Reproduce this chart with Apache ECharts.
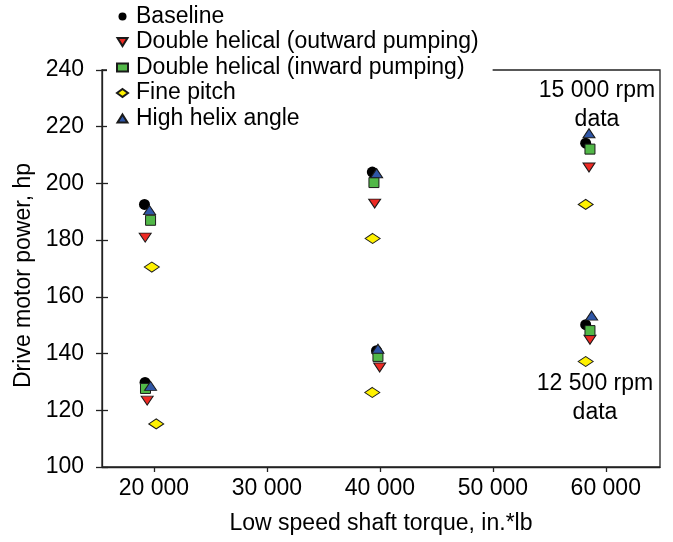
<!DOCTYPE html>
<html>
<head>
<meta charset="utf-8">
<script src="https://cdn.jsdelivr.net/npm/echarts@6/dist/echarts.min.js"></script>
<style>html,body{margin:0;padding:0;background:#fff}#c{width:673px;height:542px}</style>
</head>
<body>
<div id="c"></div>
<script>
// ---- data ----
const seriesNames = ['Baseline', 'Double helical (outward pumping)', 'Double helical (inward pumping)', 'Fine pitch', 'High helix angle'];
const xTicks = [20000, 30000, 40000, 50000, 60000];
const yTicks = [100, 120, 140, 160, 180, 200, 220, 240];

const baselineX = [19160, 39330, 58220, 19210, 39700, 58220];
const baselineY = [192.6, 204.0, 214.2, 129.8, 141.0, 150.2];
const outwardX = [19225, 39540, 58514, 19400, 39980, 58600];
const outwardY = [180.9, 192.9, 205.6, 123.4, 135.1, 144.9];
const inwardX = [19700, 39475, 58600, 19250, 39830, 58600];
const inwardY = [187.0, 200.3, 212.1, 127.7, 139.0, 148.1];
const fineX = [19810, 39360, 58220, 20200, 39330, 58220];
const fineY = [170.5, 180.6, 192.6, 115.2, 126.3, 137.2];
const highX = [19608, 39715, 58514, 19700, 39830, 58750];
const highY = [190.6, 203.6, 217.7, 128.6, 141.7, 153.4];

const annotations = [['15 000 rpm', 'data'], ['12 500 rpm', 'data']];

// ---- chart ----
const FONT = "'Liberation Sans', Arial, sans-serif";
const FS = 23;
const pair = (xs, ys) => xs.map((x, i) => [x, ys[i]]);
const fmt = v => String(v).replace(/\B(?=(\d{3})+(?!\d))/g, ' ');

const DOWN_TRI = 'path://M0,0L20,0L10,16Z';
const UP_TRI = 'path://M10,0L20,16L0,16Z';
const styles = [
  { symbol: 'circle', size: 11, color: '#000000' },
  { symbol: DOWN_TRI, size: [12, 9], color: '#ee2a24' },
  { symbol: 'rect', size: [10, 10], color: '#52b848' },
  { symbol: 'diamond', size: [15, 10], color: '#fff200' },
  { symbol: UP_TRI, size: [12, 9], color: '#2f56a6' }
];
const datas = [pair(baselineX, baselineY), pair(outwardX, outwardY), pair(inwardX, inwardY), pair(fineX, fineY), pair(highX, highY)];

const chart = echarts.init(document.getElementById('c'), null, { renderer: 'canvas' });
chart.setOption({
  animation: false,
  backgroundColor: '#fff',
  textStyle: { fontFamily: FONT, color: '#000' },
  grid: { left: 102, right: 13, top: 70, bottom: 75, show: true, borderColor: '#222', borderWidth: 1.3, backgroundColor: 'transparent' },
  legend: {
    orient: 'vertical', left: 107, top: 3,
    padding: [2, 14, 2, 9],
    backgroundColor: '#fff',
    itemWidth: 11, itemHeight: 8, itemGap: 2.5,
    textStyle: { fontFamily: FONT, fontSize: FS, color: '#000', lineHeight: 22, padding: [0, 0, 0, 3] },
    data: seriesNames
  },
  xAxis: {
    type: 'value', min: 15400, max: 64800,
    splitLine: { show: false },
    axisLine: { lineStyle: { color: '#222', width: 1.3 } },
    axisTick: { show: true, length: 5, lineStyle: { color: '#222', width: 1.3 }, customValues: xTicks },
    axisLabel: { fontFamily: FONT, fontSize: FS, color: '#000', margin: 10, customValues: xTicks, formatter: fmt },
    name: 'Low speed shaft torque, in.*lb', nameLocation: 'middle', nameGap: 45,
    nameTextStyle: { fontFamily: FONT, fontSize: FS, color: '#000' }
  },
  yAxis: [{
    type: 'value', min: 100, max: 240, interval: 20,
    splitLine: { show: false },
    axisLine: { show: true, lineStyle: { color: '#222', width: 1.3 } },
    axisTick: { show: true, length: 6, lineStyle: { color: '#222', width: 1.3 } },
    axisLabel: { fontFamily: FONT, fontSize: FS, color: '#000', margin: 18, customValues: yTicks },
    name: 'Drive motor power, hp', nameLocation: 'middle', nameGap: 65,
    nameTextStyle: { fontFamily: FONT, fontSize: FS, color: '#000', padding: [0, 14, 0, 0] }
  }, {
    type: 'value', min: 100, max: 240, interval: 20, position: 'left',
    splitLine: { show: false },
    axisLine: { show: false },
    axisTick: { show: true, inside: true, length: 6, lineStyle: { color: '#222', width: 1.3 } },
    axisLabel: { show: false }
  }],
  series: seriesNames.map((name, i) => ({
    name, type: 'scatter',
    data: datas[i],
    symbol: styles[i].symbol,
    symbolSize: styles[i].size,
    itemStyle: { color: styles[i].color, borderColor: '#1a1a1a', borderWidth: i === 0 ? 0 : 1, opacity: 1 },
    emphasis: { disabled: true },
    z: 2 + i
  })),
  graphic: [
    { type: 'text', x: 597, y: 76, style: { text: annotations[0].join('\n'), font: FS + 'px ' + FONT, fill: '#000', align: 'center', textAlign: 'center', lineHeight: 29 }, z: 10 },
    { type: 'text', x: 595, y: 369, style: { text: annotations[1].join('\n'), font: FS + 'px ' + FONT, fill: '#000', align: 'center', textAlign: 'center', lineHeight: 29 }, z: 10 }
  ]
});
</script>
</body>
</html>
